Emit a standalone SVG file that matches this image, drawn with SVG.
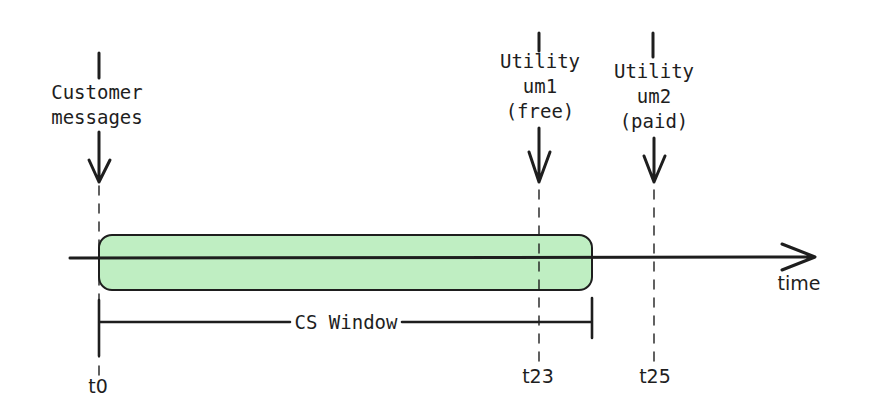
<svg xmlns="http://www.w3.org/2000/svg" width="870" height="416" viewBox="0 0 870 416">
<style>
.ln{stroke:#1e1e1e;fill:none;stroke-linecap:round;stroke-linejoin:round}
.thick{stroke-width:3}
.mid{stroke-width:2.6}
.dash{stroke-width:1.4;stroke-dasharray:9 9}
.mono{font-family:"DejaVu Sans Mono","Liberation Mono",monospace;font-size:19px;fill:#1e1e1e;text-anchor:middle}
.hand{font-family:"DejaVu Sans","Liberation Sans",sans-serif;font-size:19px;fill:#1e1e1e;text-anchor:middle}
</style>
<rect width="870" height="416" fill="#ffffff"/>
<g id="window">
<rect x="99" y="235" width="493" height="55" rx="13" fill="#bfeec2" stroke="#1e1e1e" stroke-width="2"/>
</g>
<g id="connectors">
<line class="ln dash" x1="99" y1="186" x2="99" y2="376"/>
<line class="ln dash" x1="539" y1="190" x2="539" y2="362"/>
<line class="ln dash" x1="654" y1="190" x2="654" y2="362"/>
<path class="ln thick" d="M70 258 L815 257 M782 244 L815 257 L782 270"/>
<path class="ln mid" d="M99 300 L99 356 M99 322 L290 322 M402 322 L592 322 M592 298 L592 338"/>
<path class="ln thick" d="M99 53 L99 78"/>
<path class="ln thick" d="M99 132 L99 182 M89 160 L99 182 L110 160"/>
<path class="ln thick" d="M539 33 L539 51"/>
<path class="ln thick" d="M539 128 L539 182 M529 152 L539 182 L550 152"/>
<path class="ln thick" d="M653 33 L653 57"/>
<path class="ln thick" d="M654 138 L654 182 M644 156 L654 182 L665 156"/>
</g>
<g id="customer">
<text class="mono" x="97" y="99">Customer</text>
<text class="mono" x="97" y="124">messages</text>
</g>
<g id="um1">
<text class="mono" x="540" y="68">Utility</text>
<text class="mono" x="540" y="93">um1</text>
<text class="mono" x="540" y="118">(free)</text>
</g>
<g id="um2">
<text class="mono" x="654" y="78">Utility</text>
<text class="mono" x="654" y="103">um2</text>
<text class="mono" x="654" y="128">(paid)</text>
</g>
<g id="cs-label">
<text class="mono" x="346" y="329">CS Window</text>
</g>
<g id="labels">
<text class="hand" x="98" y="393">t0</text>
<text class="hand" x="538" y="383">t23</text>
<text class="hand" x="655" y="383">t25</text>
<text class="hand" x="799" y="290">time</text>
</g>
</svg>
